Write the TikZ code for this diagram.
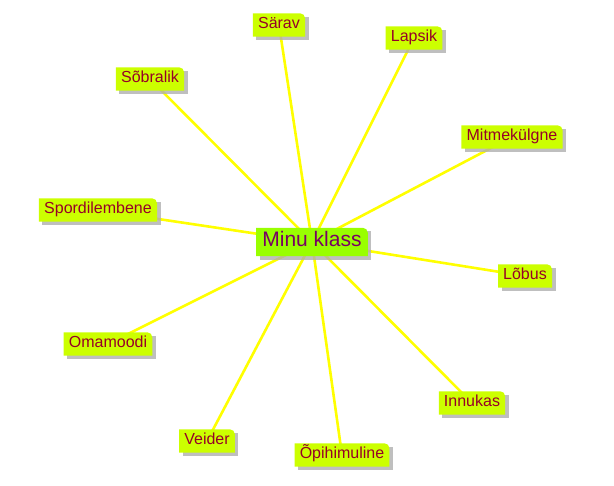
\documentclass[tikz,border=0pt]{standalone}
\usepackage{fontspec}
\setmainfont{Liberation Sans}
\usetikzlibrary{backgrounds,calc}
\definecolor{leafgreen}{RGB}{204,255,0}
\definecolor{centergreen}{RGB}{153,255,0}
\definecolor{leaftxt}{RGB}{150,0,40}
\definecolor{centertxt}{RGB}{120,0,100}
\definecolor{linkyellow}{RGB}{255,255,0}
\definecolor{shadowgray}{RGB}{175,175,175}
\tikzset{
  leafbox/.style={font=\fontsize{16}{16}\selectfont, text=leaftxt, inner xsep=5pt, inner ysep=0pt, minimum height=23pt, text height=12pt, text depth=4pt},
  centerbox/.style={font=\fontsize{21}{21}\selectfont, text=centertxt, inner xsep=6pt, inner ysep=0pt, minimum height=28pt, text height=15pt, text depth=5pt},
  link/.style={draw=linkyellow, line width=2.6pt},
  boxshadow/.style={fill=shadowgray, opacity=0.8}
}
\newcommand{\boxbg}[2]{%
  \fill[boxshadow] ($(#1.south west)+(3.5pt,-3.5pt)$) -- ($(#1.north west)+(3.5pt,-3.5pt)$) -- ($(#1.north east)+(3.5pt,-3.5pt)$) -- ($(#1.south east)+(3.5pt,-3.5pt)$) -- cycle;
  \fill[#2] (#1.south west) -- (#1.north west) -- ($(#1.north east)+(-5pt,0)$) arc[start angle=90,end angle=0,radius=5pt] -- (#1.south east) -- cycle;}
\begin{document}
\begin{tikzpicture}[x=1pt,y=1pt]
\useasboundingbox (0,0) rectangle (614,486);
\node[centerbox] (c) at (312,244) {Minu klass};
\node[leafbox] (sarav) at (279,461) {Särav};
\node[leafbox] (lapsik) at (414,448) {Lapsik};
\node[leafbox] (sobralik) at (150,407) {Sõbralik};
\node[leafbox] (mitme) at (512,349) {Mitmekülgne};
\node[leafbox] (spordi) at (98,276) {Spordilembene};
\node[leafbox] (lobus) at (525,210) {Lõbus};
\node[leafbox] (omamoodi) at (108,142) {Omamoodi};
\node[leafbox] (innukas) at (472,83) {Innukas};
\node[leafbox] (veider) at (207,45) {Veider};
\node[leafbox] (opi) at (342,31) {Õpihimuline};
\begin{pgfonlayer}{background}
\foreach \n in {sarav,lapsik,sobralik,mitme,spordi,lobus,omamoodi,innukas,veider,opi}
  \draw[link] (c.center) -- (\n.center);
\foreach \n in {sarav,lapsik,sobralik,mitme,spordi,lobus,omamoodi,innukas,veider,opi}
  {\boxbg{\n}{leafgreen}}
\boxbg{c}{centergreen}
\end{pgfonlayer}
\end{tikzpicture}
\end{document}
